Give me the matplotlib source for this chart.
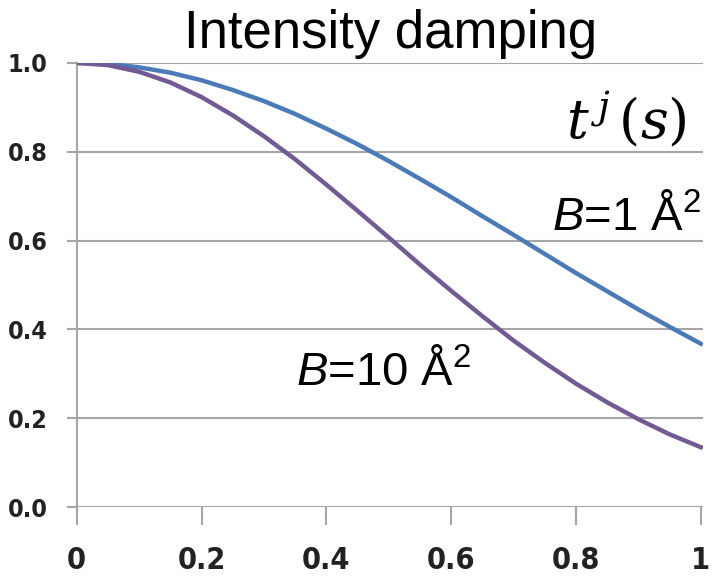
import matplotlib
matplotlib.use("Agg")
import matplotlib.pyplot as plt
from matplotlib import font_manager as fm

s_values = [0.00, 0.05, 0.10, 0.15, 0.20, 0.25, 0.30, 0.35, 0.40, 0.45, 0.50,
            0.55, 0.60, 0.65, 0.70, 0.75, 0.80, 0.85, 0.90, 0.95, 1.00]
b1_values = [1.000, 0.998, 0.990, 0.978, 0.961, 0.939, 0.914, 0.885, 0.852, 0.817, 0.779,
             0.739, 0.698, 0.655, 0.613, 0.570, 0.527, 0.486, 0.445, 0.406, 0.368]
b10_values = [1.000, 0.995, 0.980, 0.956, 0.923, 0.882, 0.835, 0.783, 0.726, 0.667, 0.607,
              0.546, 0.487, 0.430, 0.375, 0.325, 0.278, 0.236, 0.198, 0.164, 0.135]
x_ticks = [0, 0.2, 0.4, 0.6, 0.8, 1.0]
x_tick_labels = ["0", "0.2", "0.4", "0.6", "0.8", "1"]
y_ticks = [0.0, 0.2, 0.4, 0.6, 0.8, 1.0]
y_tick_labels = ["0.0", "0.2", "0.4", "0.6", "0.8", "1.0"]

# choose a condensed bold face if one is installed
tick_fp = None
for f in fm.fontManager.ttflist:
    n = (f.fname or "").lower()
    if ("condensed" in n or "narrow" in n) and "bold" in n and "italic" not in n \
            and "extra" not in n and "semi" not in n and "ultra" not in n:
        tick_fp = fm.FontProperties(fname=f.fname)
        break
if tick_fp is None:
    tick_fp = fm.FontProperties(family="Roboto", weight="bold")

plt.rcParams["mathtext.fontset"] = "custom"
plt.rcParams["mathtext.rm"] = "Liberation Sans"
plt.rcParams["mathtext.it"] = "Liberation Sans:italic"

fig = plt.figure(figsize=(7.17, 5.77), dpi=100)
ax = fig.add_axes([0.107, 0.121, 0.873, 0.770])

grid_c = "#a6a6a6"
for yv in y_ticks:
    ax.axhline(yv, color=grid_c, lw=1.5, zorder=1)

ax.plot(s_values, b1_values, color="#4a7ab8", lw=3.2, zorder=3)
ax.plot(s_values, b10_values, color="#725a94", lw=3.2, zorder=3)

ax.set_xlim(0, 1.003)
ax.set_ylim(0, 1.0)
for sp in ["top", "right", "bottom"]:
    ax.spines[sp].set_visible(False)
ax.spines["left"].set_color(grid_c)
ax.spines["left"].set_linewidth(1.5)
ax.spines["left"].set_bounds(0, 1)

ax.set_xticks(x_ticks)
ax.set_xticklabels(x_tick_labels)
ax.set_yticks(y_ticks)
ax.set_yticklabels(y_tick_labels)
for lbl in ax.get_xticklabels():
    lbl.set_fontproperties(tick_fp)
    lbl.set_fontsize(22)
    lbl.set_color("#222222")
for lbl in ax.get_yticklabels():
    lbl.set_fontproperties(tick_fp)
    lbl.set_fontsize(18)
    lbl.set_color("#222222")
ax.tick_params(axis="y", length=7, width=1.5, color=grid_c, pad=14)
ax.tick_params(axis="x", length=13, width=1.5, color=grid_c, pad=15)

fig.text(0.545, 0.897, "Intensity damping", ha="center", va="bottom",
         family="Liberation Sans", fontsize=38, color="black")

ax.text(0.978, 0.872, r"$t^{\,j}\,(s)$", ha="right", va="center", fontsize=39,
        math_fontfamily="dejavuserif")
ax.text(1.0, 0.625, r"$B$=1 Å$^{2}$", ha="right", va="baseline", fontsize=34,
        family="Liberation Sans")
ax.text(0.352, 0.275, r"$B$=10 Å$^{2}$", ha="left", va="baseline", fontsize=34,
        family="Liberation Sans")

fig.savefig("out.png", dpi=100)
